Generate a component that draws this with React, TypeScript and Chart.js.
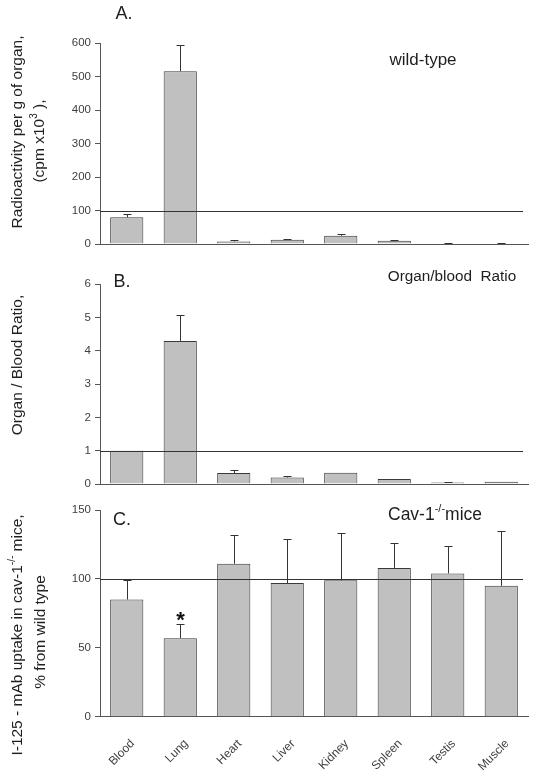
import React, { useEffect, useRef } from 'react';
import { Chart, registerables } from 'chart.js';
Chart.register(...registerables);

const categories = ['Blood', 'Lung', 'Heart', 'Liver', 'Kidney', 'Spleen', 'Testis', 'Muscle'];
const uptakeValues = [80, 516, 8, 13, 25, 10, 2, 2];
const uptakeErrors = [10, 79, 3, 1, 6, 2, 1, 1];
const ratioValues = [1.0, 4.3, 0.33, 0.2, 0.34, 0.15, 0.05, 0.07];
const ratioErrors = [0, 0.78, 0.08, 0.05, 0, 0, 0.02, 0];
const cavValues = [85, 57, 111, 97, 99, 108, 104, 95];
const cavErrors = [14, 10, 21, 32, 34, 18, 20, 40];
const uptakeTicks = [0, 100, 200, 300, 400, 500, 600];
const ratioTicks = [0, 1, 2, 3, 4, 5, 6];
const cavTicks = [0, 50, 100, 150];
const referenceLevels = [100, 1, 100];
const significant = [false, true, false, false, false, false, false, false];

const FONT = '"Liberation Sans", Arial, Helvetica, sans-serif';
const TEXT = '#1e1e1e';
const AXIS = '#555555';

type Part = { t: string; sup?: boolean };
type Ann = { parts: Part[]; x: number; y: number; size: number; rotate?: boolean; align?: 'center' | 'left' };

function drawParts(ctx: CanvasRenderingContext2D, a: Ann) {
  ctx.save();
  ctx.translate(a.x, a.y);
  if (a.rotate) ctx.rotate(-Math.PI / 2);
  const supSize = Math.round(a.size * 0.65);
  let total = 0;
  const widths = a.parts.map((p) => {
    ctx.font = `${p.sup ? supSize : a.size}px ${FONT}`;
    const w = ctx.measureText(p.t).width;
    total += w;
    return w;
  });
  let cx = a.align === 'left' ? 0 : -total / 2;
  ctx.textBaseline = 'middle';
  ctx.textAlign = 'left';
  ctx.fillStyle = TEXT;
  a.parts.forEach((p, i) => {
    ctx.font = `${p.sup ? supSize : a.size}px ${FONT}`;
    ctx.fillText(p.t, cx, p.sup ? -a.size * 0.36 : 0);
    cx += widths[i];
  });
  ctx.restore();
}

type PanelCfg = {
  top: number;
  height: number;
  values: number[];
  errors: number[];
  ticks: number[];
  ref: number;
  padTop: number;
  xHeight: number;
  showX: boolean;
  anns: Ann[];
};

const panels: PanelCfg[] = [
  {
    top: 0, height: 255, values: uptakeValues, errors: uptakeErrors, ticks: uptakeTicks, ref: referenceLevels[0],
    padTop: 43, xHeight: 6.3, showX: false,
    anns: [
      { parts: [{ t: 'A.' }], x: 124, y: 14, size: 18 },
      { parts: [{ t: 'wild-type' }], x: 423, y: 60, size: 17 },
      { parts: [{ t: 'Radioactivity per g of organ,' }], x: 18, y: 132, size: 15.5, rotate: true },
      { parts: [{ t: '(cpm x10' }, { t: '3', sup: true }, { t: ' ),' }], x: 40, y: 141, size: 15.5, rotate: true },
    ],
  },
  {
    top: 255, height: 240, values: ratioValues, errors: ratioErrors, ticks: ratioTicks, ref: referenceLevels[1],
    padTop: 29.3, xHeight: 4.3, showX: false,
    anns: [
      { parts: [{ t: 'B.' }], x: 122, y: 27, size: 18 },
      { parts: [{ t: 'Organ/blood  Ratio' }], x: 452, y: 22, size: 15.3 },
      { parts: [{ t: 'Organ / Blood Ratio,' }], x: 18, y: 110, size: 15.5, rotate: true },
    ],
  },
  {
    top: 495, height: 286, values: cavValues, errors: cavErrors, ticks: cavTicks, ref: referenceLevels[2],
    padTop: 15, xHeight: 64.3, showX: true,
    anns: [
      { parts: [{ t: 'C.' }], x: 122, y: 25, size: 18 },
      { parts: [{ t: 'Cav-1' }, { t: '-/-', sup: true }, { t: 'mice' }], x: 435, y: 20, size: 17.5 },
      { parts: [{ t: 'I-125 - mAb uptake in cav-1' }, { t: '-/-', sup: true }, { t: ' mice,' }], x: 18, y: 140, size: 15.5, rotate: true },
      { parts: [{ t: '% from wild type' }], x: 41, y: 137, size: 15.5, rotate: true },
    ],
  },
];

function makeChart(canvas: HTMLCanvasElement, p: PanelCfg) {
  const overlay = {
    id: 'overlay',
    afterDatasetsDraw(chart: any) {
      const ctx = chart.ctx as CanvasRenderingContext2D;
      const y = chart.scales.y;
      const meta = chart.getDatasetMeta(0);
      const area = chart.chartArea;
      ctx.save();
      ctx.strokeStyle = '#333333';
      ctx.lineWidth = 1;
      meta.data.forEach((bar: any, i: number) => {
        const e = p.errors[i];
        if (!e) return;
        const x = Math.round(bar.x) + 0.5;
        const y0 = y.getPixelForValue(p.values[i]);
        const y1 = Math.round(y.getPixelForValue(p.values[i] + e)) + 0.5;
        ctx.beginPath();
        ctx.moveTo(x, y0);
        ctx.lineTo(x, y1);
        ctx.moveTo(x - 4, y1);
        ctx.lineTo(x + 4, y1);
        ctx.stroke();
        if (p.showX && significant[i]) {
          ctx.fillStyle = '#111111';
          ctx.font = `bold 22px ${FONT}`;
          ctx.textAlign = 'center';
          ctx.textBaseline = 'middle';
          ctx.fillText('*', x, y1 - 4);
        }
      });
      const ry = Math.round(y.getPixelForValue(p.ref)) + 0.5;
      ctx.strokeStyle = '#333333';
      ctx.beginPath();
      ctx.moveTo(area.left, ry);
      ctx.lineTo(area.right - 5, ry);
      ctx.stroke();
      ctx.restore();
      p.anns.forEach((a) => drawParts(ctx, a));
    },
  };

  return new Chart(canvas, {
    type: 'bar',
    data: {
      labels: categories,
      datasets: [
        {
          data: p.values,
          backgroundColor: '#c0c0c0',
          borderColor: '#3a3a3a',
          borderWidth: 1,
          barPercentage: 0.62,
          categoryPercentage: 1,
        },
      ],
    },
    options: {
      responsive: false,
      animation: false,
      devicePixelRatio: 1,
      layout: { padding: { left: 0, right: 9, top: p.padTop, bottom: 0 } },
      plugins: { legend: { display: false }, tooltip: { enabled: false }, title: { display: false } },
      scales: {
        x: {
          afterFit: (s: any) => { s.height = p.xHeight; },
          grid: { display: false, drawTicks: false },
          border: { display: true, color: AXIS, width: 1 },
          ticks: {
            display: p.showX,
            autoSkip: false,
            maxRotation: 45,
            minRotation: 45,
            labelOffset: 6,
            padding: 20,
            color: '#404040',
            font: { family: FONT, size: 12 },
          },
        },
        y: {
          min: p.ticks[0],
          max: p.ticks[p.ticks.length - 1],
          afterFit: (s: any) => { s.width = 100; },
          afterBuildTicks: (s: any) => { s.ticks = p.ticks.map((v) => ({ value: v })); },
          grid: { drawOnChartArea: false, drawTicks: true, tickLength: 5, color: AXIS },
          border: { display: true, color: AXIS, width: 1 },
          ticks: { color: '#404040', padding: 4, font: { family: FONT, size: 11.5 } },
        },
      },
    },
    plugins: [overlay],
  } as any);
}

function Panel({ p }: { p: PanelCfg }) {
  const ref = useRef<HTMLCanvasElement>(null);
  useEffect(() => {
    if (!ref.current) return;
    const c = makeChart(ref.current, p);
    return () => c.destroy();
  }, [p]);
  return (
    <canvas
      ref={ref}
      width={537}
      height={p.height}
      style={{ position: 'absolute', left: 0, top: p.top, width: 537, height: p.height }}
    />
  );
}

export default function App() {
  return (
    <div style={{ position: 'fixed', left: 0, top: 0, width: 537, height: 781, background: '#ffffff', overflow: 'hidden' }}>
      {panels.map((p, i) => (
        <Panel key={i} p={p} />
      ))}
    </div>
  );
}
